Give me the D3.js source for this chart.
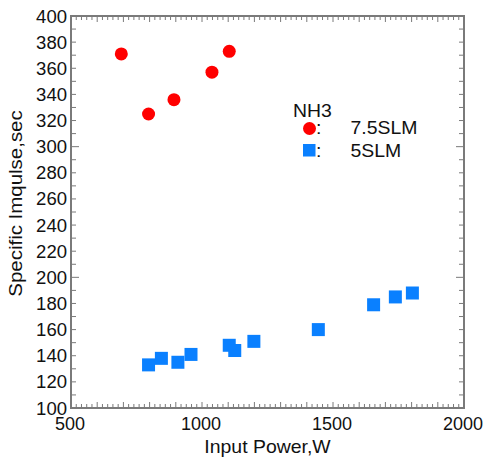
<!DOCTYPE html>
<html>
<head>
<meta charset="utf-8">
<script src="https://cdn.jsdelivr.net/npm/d3@7"></script>
<style>
  body { margin: 0; background: #fff; }
  text { font-family: "Liberation Sans", Arial, sans-serif; fill: #111; }
</style>
</head>
<body>
<svg width="485" height="459"></svg>
<script>
// data
const power75 = [692, 796, 893, 1038, 1104];
const isp75   = [371, 325, 336, 357, 373];
const power5  = [796, 845, 908, 958, 1104, 1125, 1198, 1444, 1655, 1738, 1803];
const isp5    = [133, 138, 135, 141, 148, 144, 151, 160, 179, 185, 188];
const xTickLabels = [500, 1000, 1500, 2000];
const yTickLabels = [100, 120, 140, 160, 180, 200, 220, 240, 260, 280, 300, 320, 340, 360, 380, 400];

const svg = d3.select('svg');
const margin = { top: 16, left: 71, right: 21, bottom: 51 };
const width = +svg.attr('width'), height = +svg.attr('height');
const innerWidth = width - margin.left - margin.right;
const innerHeight = height - margin.top - margin.bottom;

const g = svg.append('g').attr('transform', `translate(${margin.left},${margin.top})`);

const xScale = d3.scaleLinear().domain([500, 2000]).range([0, innerWidth]);
const yScale = d3.scaleLinear().domain([100, 400]).range([innerHeight, 0]);

const axisColor = '#7a7a7a';
const fs = 18, stretch = 1.08;   // the original font is a bit wide

// text helper: places a slightly stretched label
const label = (parent, x, y, str, anchor = 'start', size = fs, sx = stretch) =>
  parent.append('text')
    .attr('transform', `translate(${x},${y}) scale(${sx},1)`)
    .attr('text-anchor', anchor)
    .attr('font-size', size)
    .text(str);

// tick marks (inward)
const xMinor = d3.range(500, 2001, 20);
g.selectAll('.xb').data(xMinor).enter().append('line')
  .attr('x1', d => xScale(d)).attr('x2', d => xScale(d))
  .attr('y1', innerHeight).attr('y2', d => innerHeight - (d % 100 === 0 ? 6 : 4))
  .attr('stroke', axisColor).attr('stroke-width', 1);
g.selectAll('.xt').data(xMinor).enter().append('line')
  .attr('x1', d => xScale(d)).attr('x2', d => xScale(d))
  .attr('y1', 0).attr('y2', d => (d % 100 === 0 ? 6 : 4))
  .attr('stroke', axisColor).attr('stroke-width', 1);

const yMinor = d3.range(100, 401, 10);
g.selectAll('.yl').data(yMinor).enter().append('line')
  .attr('y1', d => yScale(d)).attr('y2', d => yScale(d))
  .attr('x1', 0).attr('x2', d => (d % 100 === 0 ? 8 : 5))
  .attr('stroke', axisColor).attr('stroke-width', 1);
g.selectAll('.yr').data(yMinor).enter().append('line')
  .attr('y1', d => yScale(d)).attr('y2', d => yScale(d))
  .attr('x1', innerWidth).attr('x2', d => innerWidth - (d % 100 === 0 ? 8 : 5))
  .attr('stroke', axisColor).attr('stroke-width', 1);

// frame
g.append('rect')
  .attr('width', innerWidth).attr('height', innerHeight)
  .attr('fill', 'none').attr('stroke', axisColor).attr('stroke-width', 2);

// tick labels
xTickLabels.forEach(d => label(g, xScale(d) - 1, innerHeight + 22, d, 'middle', fs, 1.0));
yTickLabels.forEach(d => label(g, -4, yScale(d) + 6.5, d, 'end', fs, 1.03));

// axis titles
label(g, innerWidth / 2, innerHeight + 45, 'Input Power,W', 'middle');
svg.append('text')
  .attr('transform', `translate(21.5,203.5) rotate(-90) scale(1.1,1)`)
  .attr('text-anchor', 'middle').attr('font-size', 18.6)
  .text('Specific Imqulse,sec');

// points
const red = '#ff0000', blue = '#0a80ff';
const sq = 13;
g.selectAll('.sq').data(power5).enter().append('rect')
  .attr('x', d => xScale(d) - sq / 2)
  .attr('y', (d, i) => yScale(isp5[i]) - sq / 2)
  .attr('width', sq).attr('height', sq)
  .attr('fill', blue);
g.selectAll('.ci').data(power75).enter().append('circle')
  .attr('cx', d => xScale(d))
  .attr('cy', (d, i) => yScale(isp75[i]))
  .attr('r', 6.5)
  .attr('fill', red);

// legend
const lg = svg.append('g');
label(lg, 293, 117, 'NH3');
lg.append('circle').attr('cx', 309.5).attr('cy', 128.5).attr('r', 6.5).attr('fill', red);
label(lg, 316, 133.5, ':');
label(lg, 350.5, 133.5, '7.5SLM');
lg.append('rect').attr('x', 303).attr('y', 144).attr('width', 12.5).attr('height', 12.5).attr('fill', blue);
label(lg, 316, 157, ':');
label(lg, 350.5, 157, '5SLM');
</script>
</body>
</html>
